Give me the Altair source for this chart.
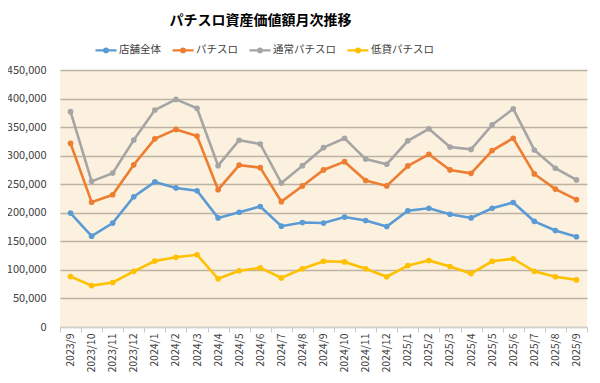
import altair as alt
import pandas as pd

months = ["2023/9", "2023/10", "2023/11", "2023/12", "2024/1", "2024/2", "2024/3",
          "2024/4", "2024/5", "2024/6", "2024/7", "2024/8", "2024/9", "2024/10",
          "2024/11", "2024/12", "2025/1", "2025/2", "2025/3", "2025/4", "2025/5",
          "2025/6", "2025/7", "2025/8", "2025/9"]

store_total = [199500, 159000, 182000, 228000, 254000, 243500, 238500,
               191000, 201000, 211000, 176500, 183000, 182000, 192500,
               186500, 176000, 203500, 208000, 197500, 191000, 208000,
               218000, 185000, 169000, 158000]
pachislot = [321500, 218500, 231500, 284000, 329500, 346000, 334500,
             240500, 283500, 279000, 219500, 247000, 275000, 289500,
             256500, 247000, 282000, 302500, 275000, 269000, 309000,
             330500, 268000, 241500, 223000]
normal_slot = [377000, 255000, 269500, 327500, 380000, 398500, 383000,
               282500, 327000, 320500, 252000, 282500, 314000, 330500,
               294000, 285000, 326000, 347000, 315000, 311000, 354000,
               382000, 310000, 278000, 257500]
low_rate_slot = [88500, 72500, 78000, 97500, 115500, 122000, 126500,
                 84500, 98500, 103500, 86000, 102000, 115000, 114000,
                 102000, 88000, 107500, 116500, 106000, 93500, 115000,
                 119500, 97500, 88000, 82500]

series_names = ["店舗全体", "パチスロ", "通常パチスロ", "低貸パチスロ"]
series_values = [store_total, pachislot, normal_slot, low_rate_slot]
series_colors = ["#5B9BD5", "#ED7D31", "#A5A5A5", "#FFC000"]
y_ticks = [0, 50000, 100000, 150000, 200000, 250000, 300000, 350000, 400000, 450000]

rows = []
for name, vals in zip(series_names, series_values):
    for m, v in zip(months, vals):
        rows.append({"month": m, "series": name, "value": v})
df = pd.DataFrame(rows)

FONT = "Noto Sans CJK JP"

xscale = alt.Scale(type="band", domain=months, paddingInner=0, paddingOuter=0)
yscale = alt.Scale(domain=[0, 450000])
cscale = alt.Scale(domain=series_names, range=series_colors)

x_axis = alt.Axis(title=None, orient="bottom", labelAngle=-90, labelFont=FONT,
                  labelFontSize=10.5, labelColor="#404040", ticks=True,
                  tickSize=5, tickColor="#C8C8C8", tickWidth=1,
                  tickBand="extent",
                  domain=True, domainColor="#D0D0D0", domainWidth=1,
                  grid=False, labelPadding=1)
y_axis = alt.Axis(title=None, format=",d", values=y_ticks,
                  labelFont=FONT, labelFontSize=11, labelColor="#404040",
                  labelOverlap=False,
                  ticks=False, domain=False, gridColor="#BDB3A3",
                  gridWidth=1.5, labelPadding=14)

base = alt.Chart(df)

lines = base.mark_line(strokeWidth=2.6).encode(
    x=alt.X("month:N", scale=xscale, sort=months, axis=x_axis),
    y=alt.Y("value:Q", scale=yscale, axis=y_axis),
    color=alt.Color(
        "series:N", scale=cscale,
        legend=alt.Legend(
            title=None, orient="none", direction="horizontal",
            legendX=34, legendY=-32,
            symbolType="M-1,0L1,0M-0.17,0a0.17,0.17 0 1,0 0.34,0a0.17,0.17 0 1,0 -0.34,0",
            symbolSize=441, symbolStrokeWidth=2.2,
            labelFont=FONT, labelFontSize=10.5, labelColor="#404040",
            columnPadding=7, labelOffset=1,
        ),
    ),
)

points = base.mark_point(filled=True, size=32, opacity=1).encode(
    x=alt.X("month:N", scale=xscale, sort=months, axis=x_axis),
    y=alt.Y("value:Q", scale=yscale, axis=y_axis),
    color=alt.Color("series:N", scale=cscale, legend=None),
)

chart = alt.layer(lines, points).properties(
    width=527, height=257,
    autosize=alt.AutoSizeParams(type="none"),
    padding={"left": 52, "top": 62, "right": 5, "bottom": 48},
    title=alt.TitleParams("パチスロ資産価値額月次推移", anchor="middle", dx=-63, offset=10,
                          font=FONT, fontSize=14, fontWeight="bold", color="#000000"),
).configure_view(fill="#FCF1DE", stroke=None)

chart.save("out.html", embed_options={"renderer": "svg", "actions": False})
